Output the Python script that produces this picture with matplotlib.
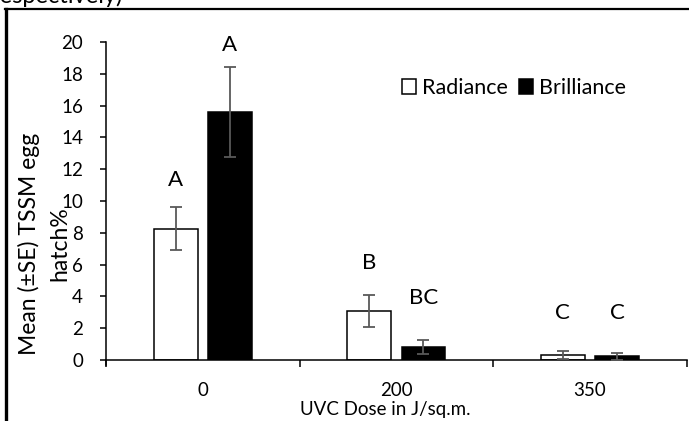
import matplotlib.pyplot as plt
import numpy as np
from matplotlib.lines import Line2D

plt.rcParams['font.family'] = ['Lato', 'DejaVu Sans']

# data
doses = ["0", "200", "350"]
radiance = [8.25, 3.1, 0.3]
radiance_se = [1.35, 1.0, 0.25]
brilliance = [15.6, 0.8, 0.22]
brilliance_se = [2.85, 0.45, 0.22]
radiance_letters = ["A", "B", "C"]
brilliance_letters = ["A", "BC", "C"]

# where the letters sit (set by hand in the original)
radiance_letter_y = [11.3, 6.1, 2.95]
brilliance_letter_y = [19.8, 3.9, 2.95]

fig = plt.figure(figsize=(6.89, 4.21), dpi=100)
ax = fig.add_axes([0.1538, 0.1449, 0.843, 0.7553])

x = np.arange(len(doses))
w = 0.227
off = 0.14

ax.bar(x - off, radiance, w, color="white", edgecolor="black", linewidth=1.1, label="Radiance", zorder=2)
ax.bar(x + off, brilliance, w, color="black", edgecolor="black", linewidth=1.1, label="Brilliance", zorder=2)
ax.errorbar(x - off, radiance, yerr=radiance_se, fmt="none", ecolor="#595959", elinewidth=1.3, capsize=4.3, capthick=1.3, zorder=3)
ax.errorbar(x + off, brilliance, yerr=brilliance_se, fmt="none", ecolor="#595959", elinewidth=1.3, capsize=4.3, capthick=1.3, zorder=3)

for i in range(len(doses)):
    ax.text(x[i] - off, radiance_letter_y[i], radiance_letters[i], ha="center", va="center", fontsize=16)
    ax.text(x[i] + off, brilliance_letter_y[i], brilliance_letters[i], ha="center", va="center", fontsize=16)

ax.set_xlim(-0.5, 2.5)
ax.set_ylim(0, 20)
ax.set_yticks(range(0, 21, 2))
ax.set_xticks([-0.5, 0.5, 1.5, 2.5])
ax.set_xticklabels([])
ax.set_xticks(x, minor=True)
ax.set_xticklabels(doses, minor=True)
ax.tick_params(axis="x", which="major", length=5, width=1.1, direction="out")
ax.tick_params(axis="x", which="minor", length=0, pad=16, labelsize=13.5)
ax.tick_params(axis="y", length=4.5, width=1.1, labelsize=13.5, pad=12)

for s in ["top", "right"]:
    ax.spines[s].set_visible(False)
for s in ["left", "bottom"]:
    ax.spines[s].set_linewidth(1.1)
ax.spines["left"].set_bounds(-0.3, 20)

ax.set_xlabel("UVC Dose in J/sq.m.", fontsize=13.5)
ax.xaxis.set_label_coords(0.48, -0.128)
ax.set_ylabel("Mean (±SE) TSSM egg\nhatch%", fontsize=16.5, linespacing=1.5, multialignment="center")
ax.yaxis.set_label_coords(-0.062, 0.365)

ax.legend(loc="center left", bbox_to_anchor=(0.509, 0.855), ncol=2, frameon=False, fontsize=15.5,
          handlelength=0.65, handleheight=0.65, handletextpad=0.28, columnspacing=0.55, borderpad=0,
          borderaxespad=0)

# frame of the cropped figure and caption fragment above it
fig.add_artist(Line2D([0.007, 1.0], [0.978, 0.978], color="black", linewidth=1.6, transform=fig.transFigure))
fig.add_artist(Line2D([0.009, 0.009], [0.0, 0.978], color="black", linewidth=2.4, transform=fig.transFigure))
fig.text(-0.012, 0.992, "respectively)", fontsize=17, va="baseline", ha="left")

fig.savefig("out.png", dpi=100)
